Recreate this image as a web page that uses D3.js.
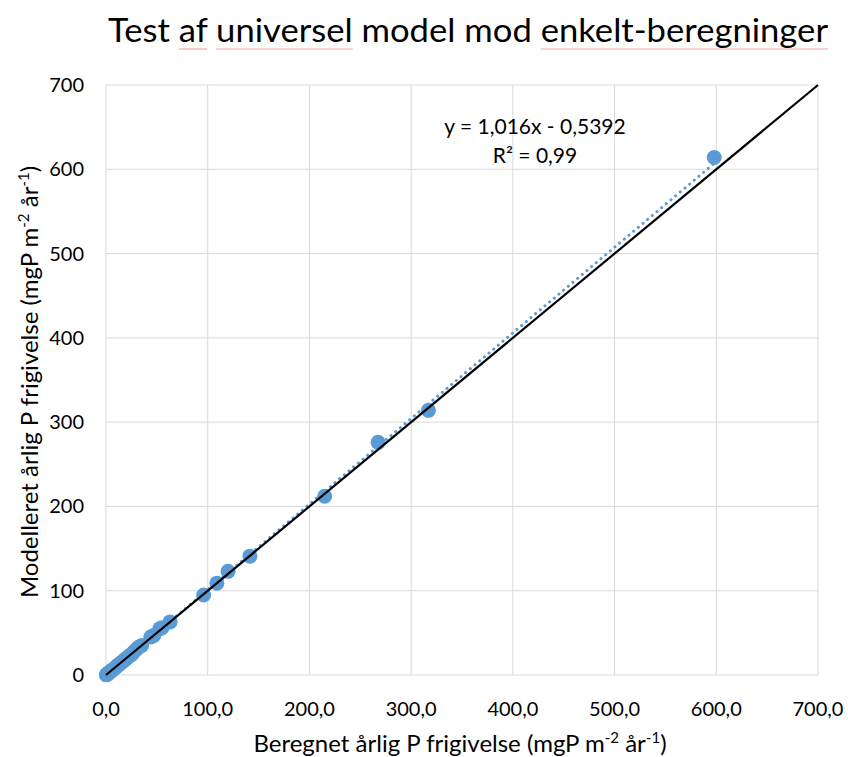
<!DOCTYPE html>
<html>
<head>
<meta charset="utf-8">
<script src="https://cdn.jsdelivr.net/npm/d3@7"></script>
<style>
  body { margin: 0; background: #fff; }
  svg { display: block; font-family: Lato, "Open Sans", sans-serif; }
  .grid line { stroke: #d9d9d9; stroke-width: 1; }
  .tick-label { font-size: 20px; fill: #000; }
</style>
</head>
<body>
<svg id="chart" width="848" height="757"></svg>
<script>
// data: beregnet (x) vs modelleret (y)
var beregnet = [0.3, 1, 1.8, 2.5, 3.2, 4, 5, 6, 7, 8.5, 10, 11.5, 13, 15, 17, 19, 21, 23, 25, 27,
  30, 32, 35, 44, 47, 53, 55, 63, 96, 109, 120, 141.5, 215, 267.5, 317, 598]
var modelleret = [0.2, 0.8, 1.5, 2.4, 3.0, 3.6, 4.6, 5.8, 6.5, 8, 9.5, 11.4, 12.5, 14.8, 16.5, 18.8, 20.5, 22.8, 24, 27,
  30.5, 33, 35, 45, 47, 55, 56, 63, 95, 109, 123, 141, 212, 276, 314, 614]
var xTicks = [0, 100, 200, 300, 400, 500, 600, 700]
var yTicks = [0, 100, 200, 300, 400, 500, 600, 700]
var trendSlope = 1.016
var trendIntercept = -0.5392
var equationText = "y = 1,016x - 0,5392"
var r2Text = "R² = 0,99"

var margin = { top: 85, right: 30, bottom: 82, left: 106 }
var svg = d3.select("#chart")
var width = 848 - margin.left - margin.right
var height = 757 - margin.top - margin.bottom

var x = d3.scaleLinear().domain([0, 700]).range([0, width])
var y = d3.scaleLinear().domain([0, 700]).range([height, 0])
var fmtX = function (d) { return d3.format(".1f")(d).replace(".", ",") }

var g = svg.append("g").attr("transform", "translate(" + margin.left + "," + margin.top + ")")

// grid
var grid = g.append("g").attr("class", "grid")
grid.selectAll(".gx").data(xTicks).enter().append("line")
  .attr("x1", function (d) { return x(d) }).attr("x2", function (d) { return x(d) })
  .attr("y1", 0).attr("y2", height)
grid.selectAll(".gy").data(yTicks).enter().append("line")
  .attr("y1", function (d) { return y(d) }).attr("y2", function (d) { return y(d) })
  .attr("x1", 0).attr("x2", width)

// tick labels
g.selectAll(".xl").data(xTicks).enter().append("text")
  .attr("class", "tick-label")
  .attr("x", function (d) { return x(d) })
  .attr("y", height + 41)
  .attr("text-anchor", "middle")
  .text(fmtX)
g.selectAll(".yl").data(yTicks).enter().append("text")
  .attr("class", "tick-label")
  .attr("x", -22)
  .attr("y", function (d) { return y(d) + 7 })
  .attr("text-anchor", "end")
  .text(function (d) { return d })

// points
var pts = beregnet.map(function (d, i) { return { x: d, y: modelleret[i] } })
g.append("g").selectAll("circle").data(pts).enter().append("circle")
  .attr("cx", function (d) { return x(d.x) })
  .attr("cy", function (d) { return y(d.y) })
  .attr("r", 7.5)
  .attr("fill", "#5b9bd5")

// linear trendline over data range
var xr = d3.extent(beregnet)
g.append("line")
  .attr("x1", x(xr[0])).attr("y1", y(trendSlope * xr[0] + trendIntercept))
  .attr("x2", x(xr[1])).attr("y2", y(trendSlope * xr[1] + trendIntercept))
  .attr("stroke", "#5b9bd5").attr("stroke-width", 3)
  .attr("stroke-dasharray", "0.1,6").attr("stroke-linecap", "round")

// 1:1 line
g.append("line")
  .attr("x1", x(0)).attr("y1", y(0))
  .attr("x2", x(700)).attr("y2", y(700))
  .attr("stroke", "#000").attr("stroke-width", 2.2)

// equation
g.append("text").attr("x", 429).attr("y", 49).attr("text-anchor", "middle")
  .style("font-size", "21px").text(equationText)
g.append("text").attr("x", 429).attr("y", 78).attr("text-anchor", "middle")
  .style("font-size", "21px").text(r2Text)

// title with spell-check underlines
var title = svg.append("text").attr("x", 108).attr("y", 42)
  .attr("textLength", 720).attr("lengthAdjust", "spacingAndGlyphs")
  .style("font-size", "33px")
var titleParts = [["Test ", false], ["af", true], [" ", false], ["universel", true],
  [" model mod ", false], ["enkelt-beregninger", true]]
titleParts.forEach(function (p) { title.append("tspan").text(p[0]) })
var node = title.node(), pos = 0
titleParts.forEach(function (p) {
  if (p[1]) {
    var a = node.getStartPositionOfChar(pos).x
    var b = node.getEndPositionOfChar(pos + p[0].length - 1).x
    svg.append("line").attr("x1", a).attr("x2", b).attr("y1", 49).attr("y2", 49)
      .attr("stroke", "#f3a6a6").attr("stroke-width", 1.2)
  }
  pos += p[0].length
})

// axis titles
var xt = svg.append("text").attr("x", 460).attr("y", 752).attr("text-anchor", "middle")
  .style("font-size", "24px")
xt.append("tspan").text("Beregnet årlig P frigivelse (mgP m")
xt.append("tspan").attr("dy", -9).style("font-size", "15px").text("-2")
xt.append("tspan").attr("dy", 9).text(" år")
xt.append("tspan").attr("dy", -9).style("font-size", "15px").text("-1")
xt.append("tspan").attr("dy", 9).text(")")

var yt = svg.append("text").attr("transform", "translate(38,382) rotate(-90)")
  .attr("text-anchor", "middle").style("font-size", "24px")
yt.append("tspan").text("Modelleret årlig P frigivelse (mgP m")
yt.append("tspan").attr("dy", -9).style("font-size", "15px").text("-2")
yt.append("tspan").attr("dy", 9).text(" år")
yt.append("tspan").attr("dy", -9).style("font-size", "15px").text("-1")
yt.append("tspan").attr("dy", 9).text(")")
</script>
</body>
</html>
